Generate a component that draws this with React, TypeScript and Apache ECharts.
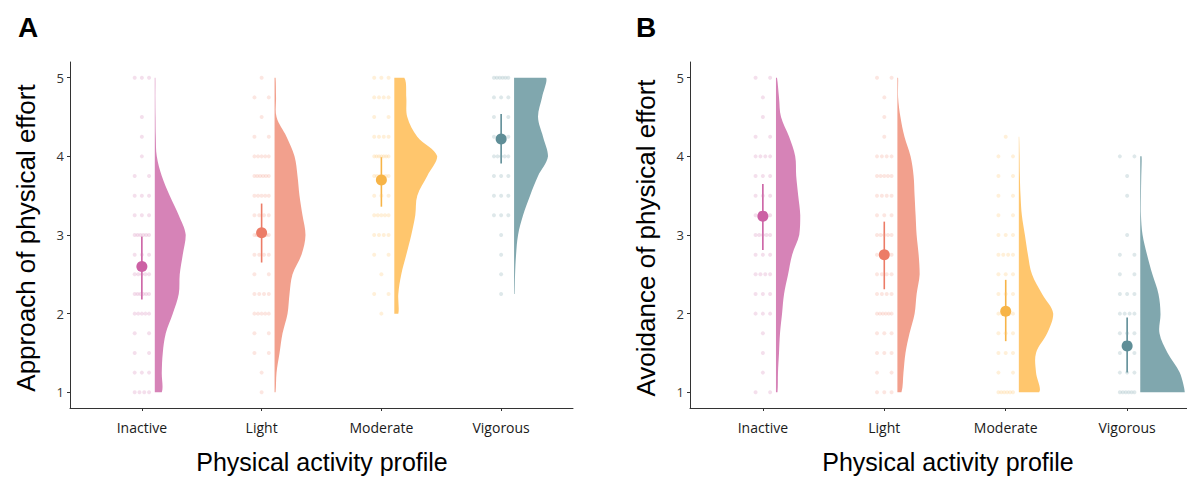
import React, { useEffect, useRef } from "react";
import * as echarts from "echarts";

const CATEGORIES = ["Inactive", "Light", "Moderate", "Vigorous"];
const Y_TICKS = [1, 2, 3, 4, 5];
const X_TICKS = [1, 2, 3, 4];
const LEVELS = [5, 4.75, 4.5, 4.25, 4, 3.75, 3.5, 3.25, 3, 2.75, 2.5, 2.25, 2, 1.75, 1.5, 1.25, 1];

const FILL_COLORS = ["#d683b7", "#f2a08d", "#ffc66d", "#80a7ae"];
const MEAN_COLORS = ["#cc61a4", "#ec7c67", "#f7b447", "#5f8e97"];

// Panel A – Approach of physical effort (violin density per level, top to bottom)
const A_DENS_INACTIVE = [0.5, 0.5, 0.7, 1, 2, 7, 15, 24, 31, 28, 25, 24, 18, 11, 8, 7, 7];
const A_DENS_LIGHT = [1, 1.5, 2, 12, 20, 23, 25, 28, 31, 27, 18, 15, 13, 8, 5, 2, 1];
const A_DENS_MODERATE = [10, 12, 13, 23, 43, 33, 23, 21, 17, 12, 7, 4, 4, null, null, null, null];
const A_DENS_VIGOROUS = [32, 28, 24, 29, 34, 24, 16, 9, 4, 2, 1, 0.5, null, null, null, null, null];

const A_COUNTS_INACTIVE = [3, 0, 1, 1, 1, 2, 3, 3, 6, 3, 5, 6, 5, 2, 2, 3, 4];
const A_COUNTS_LIGHT = [1, 2, 1, 2, 5, 6, 5, 4, 7, 4, 2, 4, 5, 2, 2, 1, 1];
const A_COUNTS_MODERATE = [3, 4, 2, 4, 7, 6, 3, 5, 4, 2, 1, 2, 1, 0, 0, 0, 0];
const A_COUNTS_VIGOROUS = [6, 3, 2, 3, 5, 3, 3, 3, 1, 1, 1, 1, 0, 0, 0, 0, 0];

const A_MEAN = [2.6, 3.03, 3.7, 4.22];
const A_LOW = [2.18, 2.65, 3.36, 3.91];
const A_HIGH = [2.98, 3.4, 3.99, 4.54];

// Panel B – Avoidance of physical effort
const B_DENS_INACTIVE = [1, 3, 5, 13, 19, 20, 22, 24, 23, 16, 12, 8, 6, 4, 3, 2, 1.5];
const B_DENS_LIGHT = [0.7, 0.7, 3, 7, 13, 16, 17, 18, 19, 21, 22, 19, 17, 12, 8, 6, 4];
const B_DENS_MODERATE = [null, null, null, 0.3, 0.7, 1, 1.7, 3, 6, 9, 13, 23, 34, 28, 17, 17, 20];
const B_DENS_VIGOROUS = [null, null, null, null, 1.3, 1, 0.7, 0.7, 2.3, 6.7, 12, 18, 20, 19, 27, 39, 44];

const B_COUNTS_INACTIVE = [2, 1, 1, 2, 4, 3, 3, 4, 5, 3, 4, 3, 3, 1, 1, 1, 2];
const B_COUNTS_LIGHT = [2, 1, 1, 1, 4, 5, 4, 3, 5, 4, 4, 4, 6, 3, 3, 2, 3];
const B_COUNTS_MODERATE = [0, 0, 0, 1, 2, 2, 2, 2, 3, 4, 3, 3, 5, 3, 3, 2, 6];
const B_COUNTS_VIGOROUS = [0, 0, 0, 0, 2, 1, 1, 0, 1, 2, 2, 3, 4, 3, 2, 3, 6];

const B_MEAN = [3.24, 2.75, 2.03, 1.59];
const B_LOW = [2.81, 2.31, 1.65, 1.25];
const B_HIGH = [3.65, 3.17, 2.43, 1.95];

const VIOLIN_OFFSET = 0.108;
const VIOLIN_SCALE = 1 / 120;
const JITTER = 0.06;

function buildPanel(
  gi: number,
  dens: (number | null)[][],
  counts: number[][],
  mean: number[],
  low: number[],
  high: number[]
) {
  const violin = {
    type: "custom",
    xAxisIndex: gi,
    yAxisIndex: gi,
    silent: true,
    data: CATEGORIES.map((_, i) => [i + 1, mean[i]]),
    renderItem: (params: any, api: any) => {
      const ci = params.dataIndex;
      const d = dens[ci];
      const xb = ci + 1 + VIOLIN_OFFSET;
      const right: number[][] = [];
      const base: number[][] = [];
      LEVELS.forEach((lv, j) => {
        const v = d[j];
        if (v == null) return;
        right.push(api.coord([xb + v * VIOLIN_SCALE, lv]));
        base.push(api.coord([xb, lv]));
      });
      const pts = right.concat(base.reverse());
      let minX = Infinity, minY = Infinity, maxX = -Infinity, maxY = -Infinity;
      pts.forEach((p) => {
        minX = Math.min(minX, p[0]);
        minY = Math.min(minY, p[1]);
        maxX = Math.max(maxX, p[0]);
        maxY = Math.max(maxY, p[1]);
      });
      return {
        type: "polygon",
        shape: {
          points: pts,
          smooth: 0.35,
          smoothConstraint: [
            [minX, minY],
            [maxX, maxY],
          ],
        },
        style: { fill: FILL_COLORS[ci], stroke: null },
      };
    },
  };

  const rainData: any[] = [];
  counts.forEach((cArr, ci) => {
    cArr.forEach((n, j) => {
      for (let k = 0; k < n; k++) {
        const off = n === 1 ? 0 : -JITTER + (2 * JITTER * k) / (n - 1);
        rainData.push({
          value: [ci + 1 + off, LEVELS[j]],
          itemStyle: { color: FILL_COLORS[ci], opacity: 0.26 },
        });
      }
    });
  });
  const rain = {
    type: "scatter",
    xAxisIndex: gi,
    yAxisIndex: gi,
    silent: true,
    symbolSize: 4,
    data: rainData,
  };

  const err = {
    type: "custom",
    xAxisIndex: gi,
    yAxisIndex: gi,
    silent: true,
    data: CATEGORIES.map((_, i) => [i + 1, low[i], high[i]]),
    renderItem: (params: any, api: any) => {
      const x = api.value(0);
      const p1 = api.coord([x, api.value(1)]);
      const p2 = api.coord([x, api.value(2)]);
      return {
        type: "line",
        shape: { x1: p1[0], y1: p1[1], x2: p2[0], y2: p2[1] },
        style: { stroke: MEAN_COLORS[params.dataIndex], lineWidth: 1.6 },
      };
    },
  };

  const means = {
    type: "scatter",
    xAxisIndex: gi,
    yAxisIndex: gi,
    silent: true,
    symbolSize: 11,
    data: CATEGORIES.map((_, i) => ({
      value: [i + 1, mean[i]],
      itemStyle: { color: MEAN_COLORS[i], opacity: 1 },
    })),
  };

  return [violin, rain, err, means];
}

function xAxis(gi: number) {
  return {
    type: "value",
    gridIndex: gi,
    min: 0.4,
    max: 4.6,
    axisLine: { show: true, onZero: false, lineStyle: { color: "#333333", width: 1 } },
    axisTick: { show: true, customValues: X_TICKS, length: 3, lineStyle: { color: "#333333" } },
    axisLabel: {
      customValues: X_TICKS,
      formatter: (v: number) => CATEGORIES[Math.round(v) - 1] || "",
      fontSize: 14,
      color: "#1a1a1a",
      margin: 12,
      fontFamily: "Open Sans",
    },
    splitLine: { show: false },
  };
}

function yAxis(gi: number) {
  return {
    type: "value",
    gridIndex: gi,
    min: 0.8,
    max: 5.2,
    axisLine: { show: true, onZero: false, lineStyle: { color: "#333333", width: 1 } },
    axisTick: { show: true, customValues: Y_TICKS, length: 3, lineStyle: { color: "#333333" } },
    axisLabel: {
      customValues: Y_TICKS,
      fontSize: 13,
      color: "#333333",
      margin: 6,
      fontFamily: "Open Sans",
    },
    splitLine: { show: false },
  };
}

export default function App() {
  const ref = useRef<HTMLDivElement>(null);
  useEffect(() => {
    if (!ref.current) return;
    const chart = echarts.init(ref.current, null, { renderer: "svg" });
    const yTitleFont = { fontFamily: "Liberation Sans", fontSize: 26, fill: "#000000" };
    const xTitleFont = { fontFamily: "Liberation Sans", fontSize: 25, fill: "#000000" };
    chart.setOption({
      animation: false,
      backgroundColor: "#ffffff",
      grid: [
        { left: 70, top: 62, width: 503, height: 346, outerBoundsMode: "none", containLabel: false },
        { left: 690, top: 62, width: 510, height: 346, outerBoundsMode: "none", containLabel: false },
      ],
      xAxis: [xAxis(0), xAxis(1)],
      yAxis: [yAxis(0), yAxis(1)],
      series: [
        ...buildPanel(
          0,
          [A_DENS_INACTIVE, A_DENS_LIGHT, A_DENS_MODERATE, A_DENS_VIGOROUS],
          [A_COUNTS_INACTIVE, A_COUNTS_LIGHT, A_COUNTS_MODERATE, A_COUNTS_VIGOROUS],
          A_MEAN,
          A_LOW,
          A_HIGH
        ),
        ...buildPanel(
          1,
          [B_DENS_INACTIVE, B_DENS_LIGHT, B_DENS_MODERATE, B_DENS_VIGOROUS],
          [B_COUNTS_INACTIVE, B_COUNTS_LIGHT, B_COUNTS_MODERATE, B_COUNTS_VIGOROUS],
          B_MEAN,
          B_LOW,
          B_HIGH
        ),
      ],
      graphic: [
        {
          type: "text",
          x: 125,
          y: -14,
          style: {
            text: "of physical activity",
            fontFamily: "Liberation Serif",
            fontStyle: "italic",
            fontWeight: "bold",
            fontSize: 24,
            fill: "#000000",
            align: "left",
            verticalAlign: "middle",
          },
        },
        {
          type: "text",
          x: 28,
          y: 27,
          style: { text: "A", fontFamily: "Liberation Sans", fontWeight: "bold", fontSize: 28, fill: "#000", align: "center", verticalAlign: "middle" },
        },
        {
          type: "text",
          x: 646,
          y: 27,
          style: { text: "B", fontFamily: "Liberation Sans", fontWeight: "bold", fontSize: 28, fill: "#000", align: "center", verticalAlign: "middle" },
        },
        {
          type: "text",
          x: 26,
          y: 238,
          rotation: Math.PI / 2,
          style: { text: "Approach of physical effort", ...yTitleFont, align: "center", verticalAlign: "middle" },
        },
        {
          type: "text",
          x: 646,
          y: 238,
          rotation: Math.PI / 2,
          style: { text: "Avoidance of physical effort", ...yTitleFont, align: "center", verticalAlign: "middle" },
        },
        {
          type: "text",
          x: 322,
          y: 462,
          style: { text: "Physical activity profile", ...xTitleFont, align: "center", verticalAlign: "middle" },
        },
        {
          type: "text",
          x: 948,
          y: 462,
          style: { text: "Physical activity profile", ...xTitleFont, align: "center", verticalAlign: "middle" },
        },
      ],
    });
    return () => chart.dispose();
  }, []);
  return (
    <div
      ref={ref}
      style={{ position: "absolute", left: 0, top: 0, width: 1187, height: 477, overflow: "hidden" }}
    />
  );
}
